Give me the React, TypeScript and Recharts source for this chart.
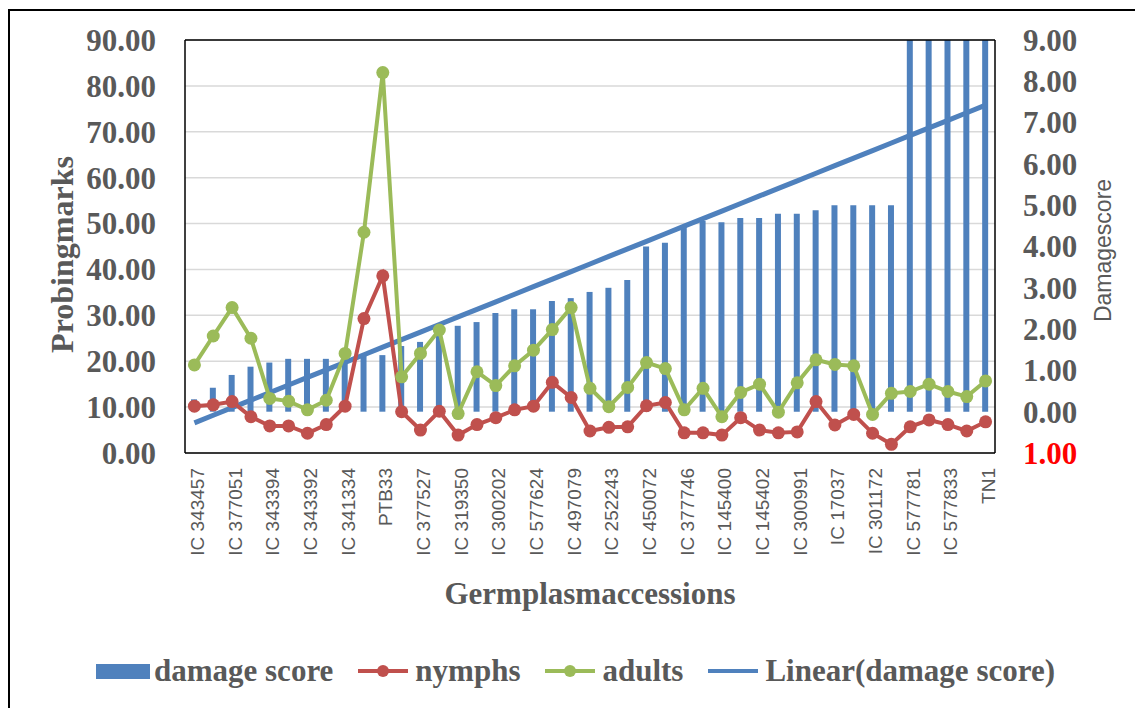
import {
  Bar,
  CartesianGrid,
  ComposedChart,
  Label,
  Legend,
  Line,
  ReferenceLine,
  XAxis,
  YAxis,
} from "recharts";

// every second accession is not labelled on the source chart
const accessions = [
  "IC 343457", "", "IC 377051", "", "IC 343394", "", "IC 343392", "",
  "IC 341334", "", "PTB33", "", "IC 377527", "", "IC 319350", "",
  "IC 300202", "", "IC 577624", "", "IC 497079", "", "IC 252243", "",
  "IC 450072", "", "IC 377746", "", "IC 145400", "", "IC 145402", "",
  "IC 300991", "", "IC 17037", "", "IC 301172", "", "IC 577781", "",
  "IC 577833", "", "TN1",
];

const damageScore = [
  0.3, 0.58, 0.89, 1.09, 1.19, 1.28, 1.28, 1.28, 1.3, 1.35, 1.37, 1.59, 1.69,
  1.85, 2.08, 2.17, 2.39, 2.48, 2.48, 2.68, 2.75, 2.9, 3.0, 3.19, 4.0, 4.09,
  4.48, 4.62, 4.59, 4.69, 4.69, 4.79, 4.79, 4.88, 5.0, 5.0, 5.0, 5.0, 9, 9, 9,
  9, 9,
];

const nymphs = [
  10.2, 10.5, 11.2, 7.9, 5.9, 5.9, 4.3, 6.2, 10.2, 29.3, 38.6, 9.0, 5.0, 9.1,
  3.9, 6.2, 7.7, 9.4, 10.2, 15.4, 12.1, 4.8, 5.6, 5.7, 10.3, 11.0, 4.4, 4.4,
  3.9, 7.7, 5.0, 4.4, 4.6, 11.2, 6.1, 8.4, 4.3, 1.9, 5.7, 7.2, 6.2, 4.8, 6.8,
];

const adults = [
  19.2, 25.5, 31.7, 25.0, 11.9, 11.3, 9.4, 11.5, 21.7, 48.1, 82.9, 16.6, 21.7,
  26.8, 8.6, 17.7, 14.7, 19.0, 22.4, 26.9, 31.7, 14.1, 10.1, 14.3, 19.7, 18.4,
  9.4, 14.1, 7.9, 13.2, 15.0, 8.9, 15.3, 20.3, 19.3, 19.0, 8.4, 13.0, 13.4,
  15.0, 13.4, 12.3, 15.7,
];

const leftTicks = [0, 10, 20, 30, 40, 50, 60, 70, 80, 90];
const rightTicks = [-1, 0, 1, 2, 3, 4, 5, 6, 7, 8, 9];

const BLUE = "#4F81BD";
const RED = "#C0504D";
const GREEN = "#9BBB59";
const GREY = "#595959";
const SERIF = "'Liberation Serif', 'Times New Roman', serif";
const SANS = "'Liberation Sans', Arial, sans-serif";

// Excel-style least squares trendline of the damage score
function linearFit(values: number[]) {
  const n = values.length;
  const mx = (n - 1) / 2;
  const my = values.reduce((s, v) => s + v, 0) / n;
  let sxy = 0;
  let sxx = 0;
  values.forEach((v, i) => {
    sxy += (i - mx) * (v - my);
    sxx += (i - mx) * (i - mx);
  });
  const slope = sxy / sxx;
  return values.map((_, i) => my + slope * (i - mx));
}

const trend = linearFit(damageScore);

const data = accessions.map((name, i) => ({
  name,
  damage: damageScore[i],
  nymphs: nymphs[i],
  adults: adults[i],
  trend: trend[i],
}));

function AccessionTick({ x, y, payload }: any) {
  return (
    <text
      x={x}
      y={y}
      dy="0.5em"
      transform={`rotate(-90, ${x}, ${y})`}
      textAnchor="end"
      fill={GREY}
      fontFamily={SANS}
      fontSize={19}
    >
      {payload.value}
    </text>
  );
}

function LeftTick({ x, y, payload }: any) {
  return (
    <text
      x={x}
      y={y}
      dy="0.35em"
      textAnchor="end"
      fill={GREY}
      fontFamily={SERIF}
      fontWeight="bold"
      fontSize={31}
    >
      {payload.value.toFixed(2)}
    </text>
  );
}

function RightTick({ x, y, payload }: any) {
  const v = payload.value as number;
  return (
    <text
      x={x}
      y={y}
      dy="0.35em"
      textAnchor="start"
      fill={v < 0 ? "#FF0000" : GREY}
      fontFamily={SERIF}
      fontWeight="bold"
      fontSize={31}
    >
      {Math.abs(v).toFixed(2)}
    </text>
  );
}

function LineIcon({ color, marker }: { color: string; marker: boolean }) {
  return (
    <svg width={50} height={16} style={{ marginRight: 7 }}>
      <line x1={0} y1={8} x2={50} y2={8} stroke={color} strokeWidth={4} />
      {marker && <circle cx={25} cy={8} r={6} fill={color} />}
    </svg>
  );
}

function ChartLegend() {
  const text = {
    fontFamily: SERIF,
    fontWeight: "bold" as const,
    fontSize: 31,
    color: GREY,
    lineHeight: "30px",
  };
  return (
    <div
      style={{
        display: "flex",
        justifyContent: "center",
        alignItems: "center",
        gap: 25,
        height: 60,
        paddingBottom: 14,
        boxSizing: "border-box",
      }}
    >
      <div style={{ display: "flex", alignItems: "center" }}>
        <div style={{ width: 54, height: 15, background: BLUE, marginRight: 4 }} />
        <span style={text}>damage score</span>
      </div>
      <div style={{ display: "flex", alignItems: "center" }}>
        <LineIcon color={RED} marker />
        <span style={text}>nymphs</span>
      </div>
      <div style={{ display: "flex", alignItems: "center" }}>
        <LineIcon color={GREEN} marker />
        <span style={text}>adults</span>
      </div>
      <div style={{ display: "flex", alignItems: "center" }}>
        <LineIcon color={BLUE} marker={false} />
        <span style={text}>Linear(damage score)</span>
      </div>
    </div>
  );
}

export default function App() {
  return (
    <div style={{ position: "relative", width: 1135, height: 700, background: "#fff" }}>
      <div
        style={{
          position: "absolute",
          left: 0,
          top: 1,
          right: 0,
          bottom: 0,
          borderLeft: "2px solid #000",
          borderTop: "2px solid #000",
          pointerEvents: "none",
        }}
      />
      <ComposedChart
        width={1135}
        height={700}
        data={data}
        margin={{ top: 32, right: 0, bottom: 0, left: 0 }}
      >
        <CartesianGrid
          yAxisId="left"
          vertical={false}
          stroke="#D9D9D9"
          strokeWidth={1.5}
        />
        <XAxis
          dataKey="name"
          interval={0}
          height={195}
          tickSize={0}
          tickMargin={15}
          tick={<AccessionTick />}
          axisLine={{ stroke: "#000", strokeWidth: 1.5 }}
        >
          <Label
            content={({ viewBox }: any) => (
              <text
                x={viewBox.x + viewBox.width / 2}
                y={viewBox.y + 151}
                textAnchor="middle"
                fill={GREY}
                fontFamily={SERIF}
                fontWeight="bold"
                fontSize={31}
              >
                Germplasmaccessions
              </text>
            )}
          />
        </XAxis>
        <YAxis
          yAxisId="left"
          width={177}
          domain={[0, 90]}
          ticks={leftTicks}
          interval={0}
          tickSize={0}
          tickMargin={29}
          tick={<LeftTick />}
          axisLine={{ stroke: "#000", strokeWidth: 1.5 }}
        >
          <Label
            content={({ viewBox }: any) => {
              const x = viewBox.x + 54;
              const y = viewBox.y + viewBox.height / 2 + 8;
              return (
                <text
                  x={x}
                  y={y}
                  dy="0.355em"
                  transform={`rotate(-90, ${x}, ${y})`}
                  textAnchor="middle"
                  fill={GREY}
                  fontFamily={SERIF}
                  fontWeight="bold"
                  fontSize={32}
                >
                  Probingmarks
                </text>
              );
            }}
          />
        </YAxis>
        <YAxis
          yAxisId="right"
          orientation="right"
          width={148}
          domain={[-1, 9]}
          ticks={rightTicks}
          interval={0}
          allowDataOverflow
          tickSize={0}
          tickMargin={28}
          tick={<RightTick />}
          axisLine={{ stroke: "#000", strokeWidth: 1.5 }}
        >
          <Label
            content={({ viewBox }: any) => {
              const x = viewBox.x + 108;
              const y = viewBox.y + viewBox.height / 2 + 4;
              return (
                <text
                  x={x}
                  y={y}
                  dy="0.355em"
                  transform={`rotate(-90, ${x}, ${y})`}
                  textAnchor="middle"
                  fill={GREY}
                  fontFamily={SANS}
                  fontSize={23}
                >
                  Damagescore
                </text>
              );
            }}
          />
        </YAxis>
        <ReferenceLine yAxisId="left" y={90} stroke="#000" strokeWidth={1.5} />
        <Legend verticalAlign="bottom" height={60} content={() => <ChartLegend />} />
        <Bar
          yAxisId="right"
          dataKey="damage"
          name="damage score"
          fill={BLUE}
          barSize={6}
          isAnimationActive={false}
        />
        <Line
          yAxisId="right"
          dataKey="trend"
          name="Linear(damage score)"
          type="linear"
          stroke={BLUE}
          strokeWidth={5}
          dot={false}
          activeDot={false}
          isAnimationActive={false}
        />
        <Line
          yAxisId="left"
          dataKey="nymphs"
          name="nymphs"
          type="linear"
          stroke={RED}
          strokeWidth={4}
          dot={{ r: 6.5, fill: RED, stroke: RED, strokeWidth: 0 }}
          activeDot={false}
          isAnimationActive={false}
        />
        <Line
          yAxisId="left"
          dataKey="adults"
          name="adults"
          type="linear"
          stroke={GREEN}
          strokeWidth={4}
          dot={{ r: 6.5, fill: GREEN, stroke: GREEN, strokeWidth: 0 }}
          activeDot={false}
          isAnimationActive={false}
        />
      </ComposedChart>
    </div>
  );
}
